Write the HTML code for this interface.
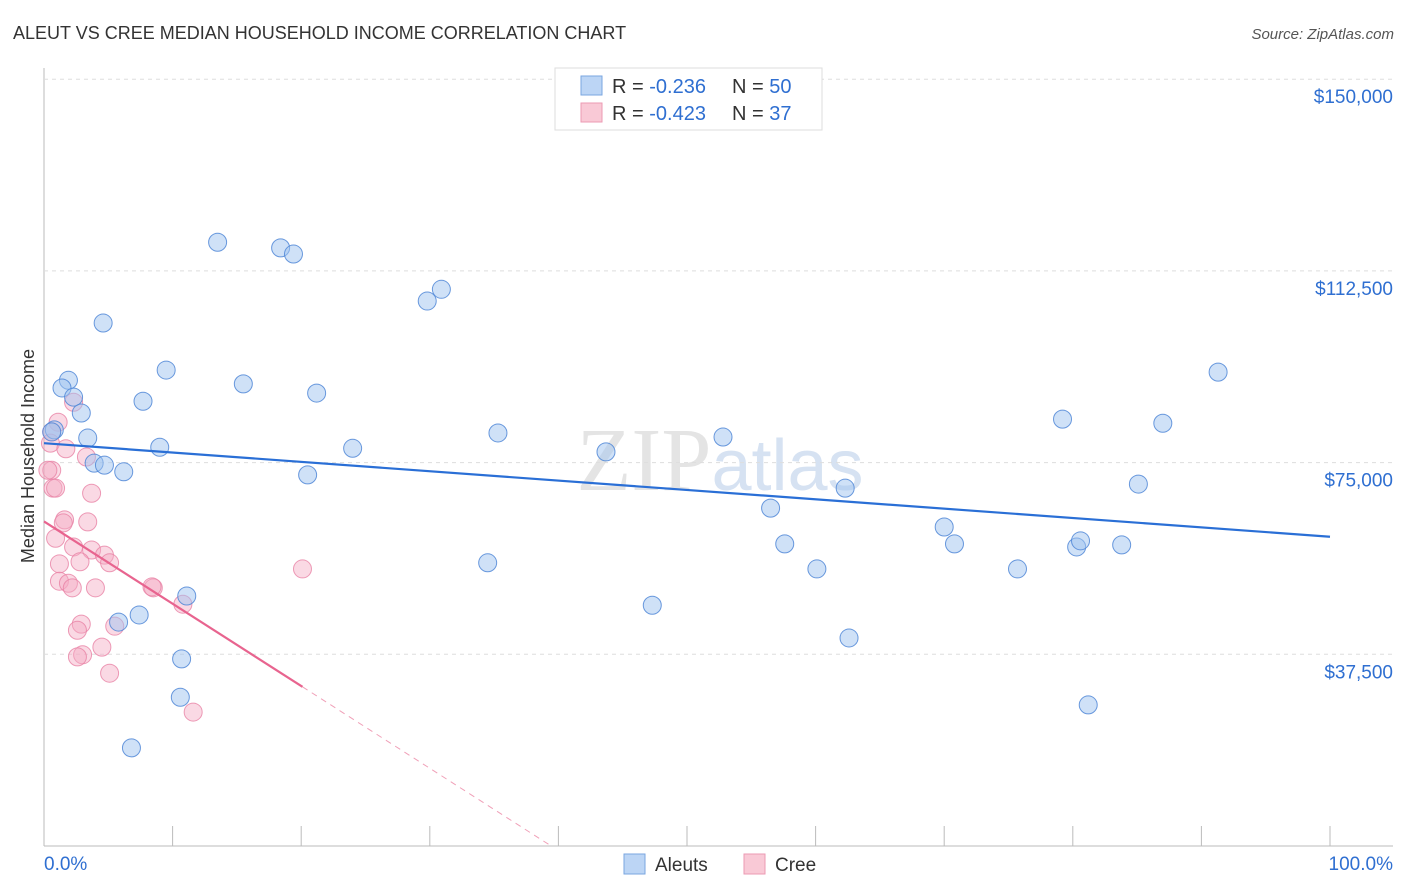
<!DOCTYPE html>
<html><head><meta charset="utf-8"><style>
body{margin:0;background:#fff;font-family:"Liberation Sans",sans-serif}
svg{display:block}
</style></head><body>
<svg id="c" width="1406" height="892" xmlns="http://www.w3.org/2000/svg">
<text x="13" y="39" font-size="18" fill="#333">ALEUT VS CREE MEDIAN HOUSEHOLD INCOME CORRELATION CHART</text>
<text x="1394" y="39" font-size="15" fill="#555" font-style="italic" text-anchor="end">Source: ZipAtlas.com</text>
<text x="720" y="490" font-size="90" fill="#e4e4e4" text-anchor="middle" font-family="Liberation Serif,serif">ZIP<tspan fill="#d6e2f2" font-family="Liberation Sans,sans-serif" font-size="72">atlas</tspan></text>
<g id="grid"></g>
<g id="pts"></g>
<g id="lines"></g>
<text x="34" y="456" font-size="18" fill="#333" text-anchor="middle" transform="rotate(-90 34 456)">Median Household Income</text>
<g>
<rect x="555" y="68" width="267" height="62" fill="#fff" stroke="#ddd"/>
<rect x="581" y="76" width="21" height="19" fill="#bcd5f5" stroke="#7aa6e0"/>
<rect x="581" y="103" width="21" height="19" fill="#f9c9d6" stroke="#ec9ab3"/>
<text x="612" y="93" font-size="20" fill="#333">R = <tspan fill="#2f6fd1">-0.236</tspan><tspan x="732">N = </tspan><tspan fill="#2f6fd1">50</tspan></text>
<text x="612" y="120" font-size="20" fill="#333">R = <tspan fill="#2f6fd1">-0.423</tspan><tspan x="732">N = </tspan><tspan fill="#2f6fd1"> 37</tspan></text>
</g>
<g>
<rect x="624" y="854" width="21" height="20" fill="#bcd5f5" stroke="#7aa6e0"/>
<text x="655" y="871" font-size="19" fill="#333">Aleuts</text>
<rect x="744" y="854" width="21" height="20" fill="#f9c9d6" stroke="#ec9ab3"/>
<text x="775" y="871" font-size="19" fill="#333">Cree</text>
</g>
</svg>
<script>
const blueX=[13.5,18.4,19.4,4.6,29.8,30.9,1.9,1.4,9.5,15.5,21.2,2.3,7.7,2.9,91.3,79.2,87.0,35.3,52.8,0.8,0.6,3.4,9.0,24.0,43.7,3.9,4.7,6.2,20.5,62.3,85.1,56.5,70.0,57.6,70.8,80.3,80.6,83.8,60.1,75.7,34.5,11.1,7.4,5.8,47.3,62.6,10.7,10.6,81.2,6.8];
const blueY=[118100,117000,115800,102300,106600,108900,91100,89600,93100,90400,88600,87800,87000,84700,92700,83500,82700,80800,80000,81400,81000,79800,78000,77800,77100,74900,74500,73200,72600,70000,70800,66100,62400,59100,59100,58500,59700,58900,54200,54200,55400,48900,45200,43800,47100,40700,36600,29100,27600,19200];
const pinkX=[1.1,0.6,0.5,1.7,3.3,0.6,0.7,0.9,3.7,1.6,1.5,3.4,0.9,2.3,3.7,4.7,5.1,2.8,1.2,1.2,1.9,2.2,4.0,8.5,8.4,10.8,20.1,5.5,2.9,2.6,4.5,3.0,2.6,5.1,11.6,2.3,0.3];
const pinkY=[82900,81000,78800,77700,76100,73500,70000,70000,69000,63800,63200,63400,60200,58500,57900,56900,55400,55600,55200,51800,51400,50500,50500,50500,50700,47300,54200,43000,43400,42200,38900,37400,37000,33800,26200,86800,73500];
const yTicks=[37500,75000,112500,150000];
const yTickLabels=["$37,500","$75,000","$112,500","$150,000"];
const blueLine=[78800,60500]; // trend values at 0% and 100%
const pinkLine=[63500,-97500];
const pinkSolidEnd=20.1;
const X0=44,X1=1330,Y0=846,PX=191.7/37500;
const sx=v=>X0+(X1-X0)*v/100, sy=v=>Y0-v*PX;
const NS="http://www.w3.org/2000/svg";
function mk(t,a,p){const e=document.createElementNS(NS,t);for(const k in a)e.setAttribute(k,a[k]);p.appendChild(e);return e;}
const g=document.getElementById('grid');
let ax=mk('line',{x1:44,y1:68,x2:44,y2:846,stroke:'#bbb'},g);


let bx=mk('line',{x1:44,y1:846,x2:1393,y2:846,stroke:'#bbb'},g);


yTicks.forEach((v,i)=>{
 const l=mk('line',{x1:44,x2:1393,y1:sy(v),y2:sy(v),stroke:'#ddd','stroke-dasharray':'4 4'},g);
 
 
 const t=mk('text',{x:1393,y:sy(v)+24,'font-size':19,fill:'#2f6fd1','text-anchor':'end'},g);
 t.textContent=yTickLabels[i];
 
 
});
for(let i=0;i<=10;i++){
 const l=mk('line',{x1:sx(i*10),x2:sx(i*10),y1:826,y2:846,stroke:'#bbb'},g);
 
 
}
[["0.0%",44,'start'],["100.0%",1393,'end']].forEach(a=>{
 const t=mk('text',{x:a[1],y:870,'font-size':19,fill:'#2f6fd1','text-anchor':a[2]},g);
 t.textContent=a[0];
 
 
});
const p=document.getElementById('pts');
pinkX.forEach((x,i)=>{
 const c=mk('circle',{cx:sx(x),cy:sy(pinkY[i]),r:9,fill:'rgba(245,170,195,0.45)',stroke:'rgba(232,130,165,0.8)','stroke-width':1},p);
 
 
});
blueX.forEach((x,i)=>{
 const c=mk('circle',{cx:sx(x),cy:sy(blueY[i]),r:9,fill:'rgba(160,195,240,0.5)',stroke:'rgba(80,135,215,0.85)','stroke-width':1},p);
 
 
});
const L=document.getElementById('lines');
let bl=mk('line',{x1:sx(0),y1:sy(blueLine[0]),x2:sx(100),y2:sy(blueLine[1]),stroke:'#2a6fd6','stroke-width':2.2},L);


const pv=x=>pinkLine[0]+(pinkLine[1]-pinkLine[0])*x/100;
let pl=mk('line',{x1:sx(0),y1:sy(pv(0)),x2:sx(pinkSolidEnd),y2:sy(pv(pinkSolidEnd)),stroke:'#e8648f','stroke-width':2.2},L);


const xz=-pinkLine[0]*100/(pinkLine[1]-pinkLine[0]);
let pd=mk('line',{x1:sx(pinkSolidEnd),y1:sy(pv(pinkSolidEnd)),x2:sx(xz),y2:sy(0),stroke:'#f0a0b8','stroke-width':1,'stroke-dasharray':'6 5'},L);


</script>
</body></html>
